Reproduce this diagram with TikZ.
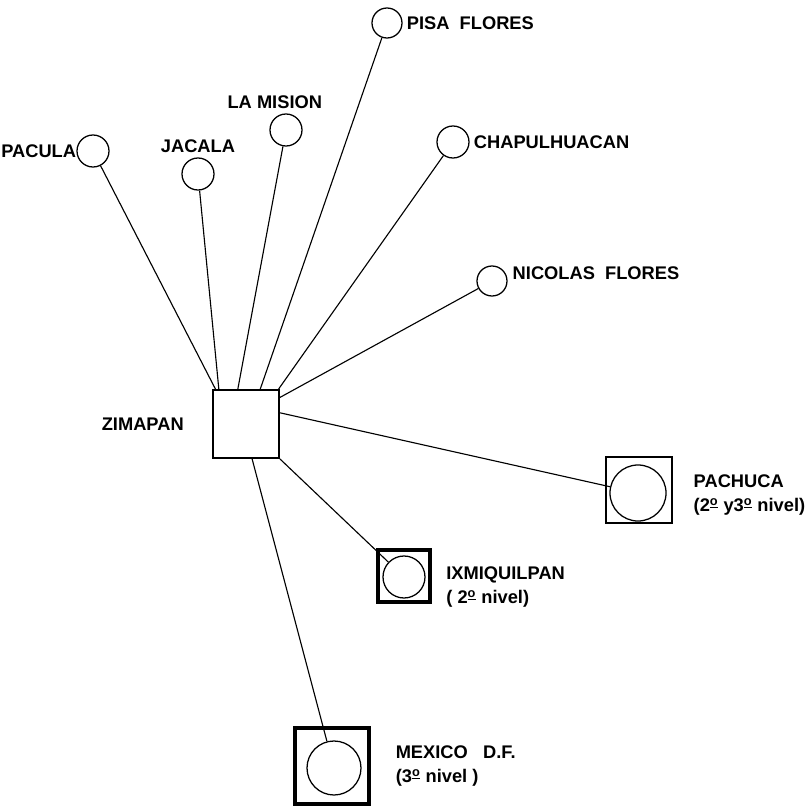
\documentclass[tikz,border=0pt]{standalone}
\usepackage{fontspec}
\setmainfont{Liberation Sans}
\usetikzlibrary{calc}
\newcommand{\ordo}{\textsuperscript{\underline{o}}}

\begin{document}
\begin{tikzpicture}[
x=0.025cm, y=-0.025cm,
town/.style={draw, circle, line width=0.9pt, minimum size=0.8cm, inner sep=0pt},
lbl/.style={font=\bfseries\fontsize{13}{17}\selectfont, inner sep=0pt, align=left},
seat/.style={draw, inner sep=0pt, minimum size=#1},
link/.style={line width=0.8pt}
]
\useasboundingbox (0,0) rectangle (808,807);

% small towns around Zimapan
\node[town, label={[lbl]left:PACULA}] (pacula) at (93,151) {};
\node[town, label={[lbl, label distance=0.12cm]above:JACALA}] (jacala) at (198,174) {};
\node[town, label={[lbl, label distance=0.12cm, xshift=-0.28cm]above:LA MISION}] (mision) at (286,130) {};
\node[town, minimum size=0.75cm, label={[lbl, label distance=0.1cm]right:PISA\ \ FLORES}] (pisa) at (387,23) {};
\node[town, label={[lbl, label distance=0.1cm]right:CHAPULHUACAN}] (chapul) at (453,142) {};
\node[town, minimum size=0.75cm, label={[lbl, label distance=0.12cm, yshift=0.2cm]right:NICOLAS\ \ FLORES}] (nicolas) at (492,281) {};

% Zimapan
\node[seat=1.65cm, minimum height=1.7cm, line width=1.4pt, label={[lbl, label distance=0.7cm]left:ZIMAPAN}] (zim) at (246,424) {};

% higher level centres
\node[seat=1.65cm, line width=2pt, label={[lbl, label distance=0.5cm, yshift=-0.12cm]right:PACHUCA\\(2\ordo\ y3\ordo\ nivel)}] (pach) at (639,490) {};
\node[town, minimum size=1.4cm] (pachc) at (638,493) {};

\node[seat=1.3cm, line width=3pt, label={[lbl, label distance=0.35cm, yshift=-0.28cm]right:IXMIQUILPAN\\( 2\ordo\ nivel)}] (ixmi) at (404,576) {};
\node[town, minimum size=1.05cm] (ixmic) at (404,577) {};

\node[seat=1.85cm, minimum height=1.9cm, line width=3.5pt, label={[lbl, label distance=0.6cm]right:MEXICO\ \ \ D.F.\\(3\ordo\ nivel )}] (mex) at (332,766) {};
\node[town, minimum size=1.35cm] (mexc) at (334,768) {};

% connections
\foreach \town/\pos in {pacula/0.05, jacala/0.1, mision/0.38, pisa/0.71, chapul/0.98}
  \draw[link] (\town) -- ($(zim.north west)!\pos!(zim.north east)$);
\draw[link] (nicolas) -- ($(zim.north east)!0.12!(zim.south east)$);
\draw[link] (pachc) -- ($(zim.north east)!0.34!(zim.south east)$);
\draw[link] (ixmic) -- (zim.south east);
\draw[link] (mexc) -- ($(zim.south west)!0.59!(zim.south east)$);
\end{tikzpicture}
\end{document}
